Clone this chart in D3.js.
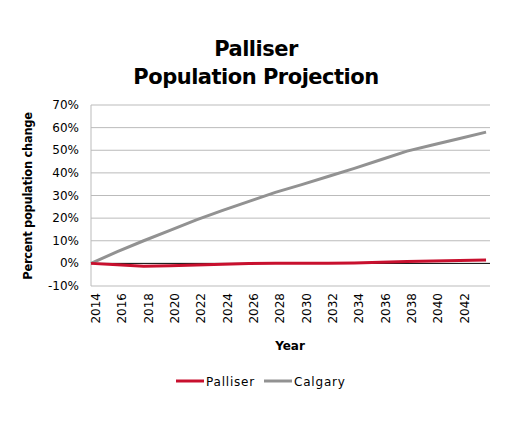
<!DOCTYPE html>
<html><head><meta charset="utf-8">
<script src="https://cdn.jsdelivr.net/npm/d3@7"></script>
<style>body{margin:0;background:#fff;font-family:"DejaVu Sans",sans-serif}</style>
</head><body><svg id="c" width="509" height="425"></svg>
<script>
const years = [2014,2016,2018,2020,2022,2024,2026,2028,2030,2032,2034,2036,2038,2040,2042,2044];
const palliser = [0,-0.6,-1.3,-1.0,-0.7,-0.4,-0.1,0.1,0.1,0.1,0.2,0.5,0.8,1.0,1.3,1.5];
const calgary = [0,5.2,10.0,14.6,19.2,23.4,27.4,31.4,34.8,38.4,42.0,45.8,49.6,52.4,55.2,58.0];
const yTicks = [-10,0,10,20,30,40,50,60,70];
const xTickYears = [2014,2016,2018,2020,2022,2024,2026,2028,2030,2032,2034,2036,2038,2040,2042];
const svg = d3.select("#c");
const x = d3.scaleLinear().domain([2014,2044.3]).range([91,490]);
const y = d3.scaleLinear().domain([-10,70]).range([286,105]);
svg.append("text").attr("x",256).attr("y",56).attr("text-anchor","middle").attr("font-size",21).attr("font-weight","bold").attr("letter-spacing",-0.5).text("Palliser");
svg.append("text").attr("x",256).attr("y",84).attr("text-anchor","middle").attr("font-size",21).attr("font-weight","bold").attr("letter-spacing",-0.5).text("Population Projection");
svg.append("g").selectAll("line").data(yTicks).join("line")
 .attr("x1",91).attr("x2",490).attr("y1",d=>y(d)).attr("y2",d=>y(d))
 .attr("stroke",d=>d===0?"#000":"#bbb").attr("stroke-width",1);
svg.append("line").attr("x1",91).attr("x2",91).attr("y1",105).attr("y2",286).attr("stroke","#bbb");
svg.append("g").selectAll("text").data(yTicks).join("text")
 .attr("x",79).attr("y",d=>y(d)+4).attr("text-anchor","end").attr("font-size",12).text(d=>d+"%");
svg.append("g").selectAll("text").data(xTickYears).join("text")
 .attr("transform",d=>`translate(${x(d)+9},293) rotate(-90)`).attr("text-anchor","end").attr("font-size",12).text(d=>d);
svg.append("text").attr("x",290).attr("y",350).attr("text-anchor","middle").attr("font-size",12).attr("font-weight","bold").text("Year");
svg.append("text").attr("transform","translate(32,196) rotate(-90)").attr("text-anchor","middle").attr("font-size",11.5).attr("font-weight","bold").attr("letter-spacing",-0.3).text("Percent population change");
const line = d3.line().x((d,i)=>x(years[i])).y(d=>y(d));
svg.append("path").datum(calgary).attr("d",line).attr("fill","none").attr("stroke","#929292").attr("stroke-width",3);
svg.append("path").datum(palliser).attr("d",line).attr("fill","none").attr("stroke","#c8102e").attr("stroke-width",3);
const leg=[["Palliser","#c8102e",176],["Calgary","#929292",264]];
leg.forEach(([n,c,lx])=>{
 svg.append("line").attr("x1",lx).attr("x2",lx+28).attr("y1",381).attr("y2",381).attr("stroke",c).attr("stroke-width",3);
 svg.append("text").attr("x",lx+30).attr("y",386).attr("font-size",12).attr("letter-spacing",0.8).text(n);
});
</script></body></html>
